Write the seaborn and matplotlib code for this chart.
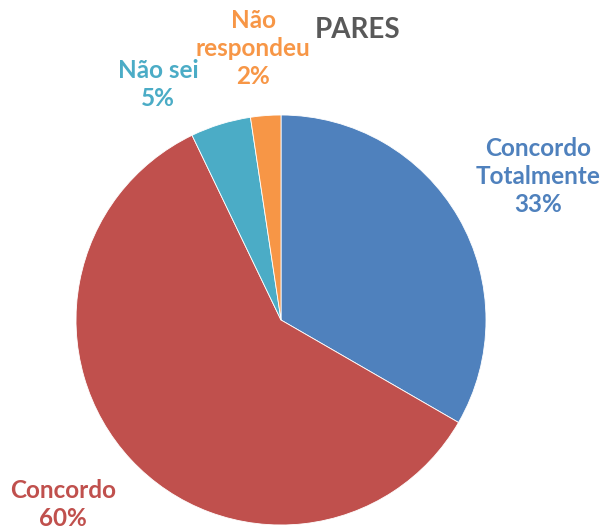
import matplotlib
matplotlib.use("Agg")
import matplotlib.pyplot as plt
import seaborn as sns

# Respostas (contagens) - PARES
categorias = ["Concordo\nTotalmente", "Concordo", "Não sei", "Não\nrespondeu"]
contagens = [14, 25, 2, 1]
cores = ["#4F81BD", "#C0504D", "#4BACC6", "#F79646"]

# posicao dos rotulos (coordenadas do grafico, raio = 1)
pos_rotulos = [(1.254, 0.70), (-1.063, -0.90), (-0.60, 1.15), (-0.135, 1.325)]

sns.set_theme(style="white")
plt.rcParams['font.family'] = ['Lato', 'DejaVu Sans']

fig = plt.figure(figsize=(6.09, 5.29), dpi=100)
ax = fig.add_axes([76 / 609, 4 / 529, 410 / 609, 410 / 529])

ax.pie(contagens, colors=cores, startangle=90, counterclock=False,
       wedgeprops=dict(edgecolor="white", linewidth=0.6))
ax.set_xlim(-1, 1)
ax.set_ylim(-1, 1)
ax.set_aspect("auto")
ax.axis("off")

total = sum(contagens)
for cat, n, cor, (x, y) in zip(categorias, contagens, cores, pos_rotulos):
    pct = round(100 * n / total)
    ax.text(x, y, f"{cat}\n{pct}%", color=cor, fontsize=17.5, fontweight="bold",
            ha="center", va="center", linespacing=1.25, clip_on=False)

fig.text(358 / 609, 1 - 30 / 529, "PARES", color="#595959", fontsize=20,
         fontweight="bold", ha="center", va="center")

fig.savefig("out.png", dpi=100)
plt.close(fig)
